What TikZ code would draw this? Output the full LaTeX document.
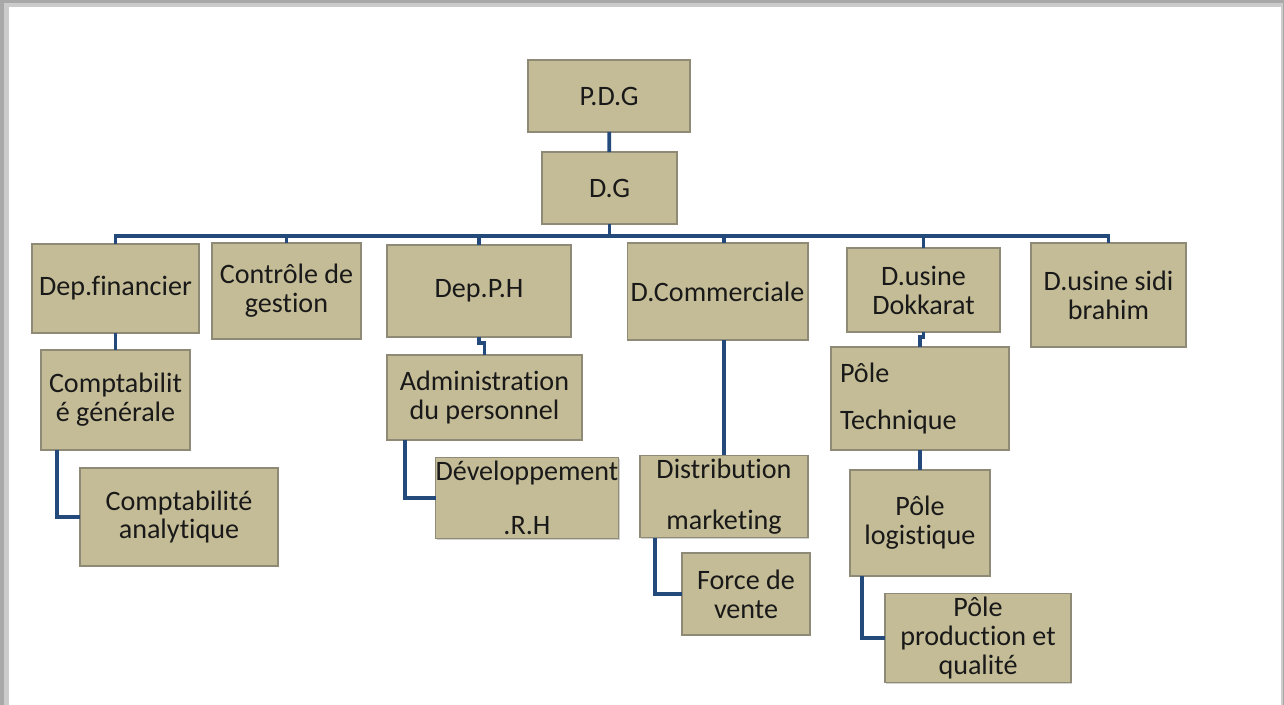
\documentclass[tikz,border=0pt]{standalone}
\usepackage{fontspec}
\setmainfont{Carlito}[Ligatures=NoCommon]
\usetikzlibrary{positioning, calc, shadows}
\definecolor{unitfill}{HTML}{C4BC96}
\definecolor{unitline}{HTML}{8E8A76}
\definecolor{linkblue}{HTML}{234A7A}
\definecolor{frame}{HTML}{A8A8A8}

\begin{document}
\begin{tikzpicture}[
    x=0.02cm, y=-0.02cm,
    every node/.style={font=\fontsize{16}{16.5}\selectfont, text=black!90},
    unit/.style={draw=unitline, line width=0.8pt, fill=unitfill, inner sep=2pt, outer sep=0pt,
        align=center, drop shadow={shadow xshift=0.8pt, shadow yshift=-0.8pt, opacity=0.35}},
    link/.style={draw=linkblue, line width=2.2pt}
]
% page frame
\fill[frame] (0,0) rectangle (1284,705);
\fill[frame!60] (4,3) rectangle (1283,705);
\fill[white] (9,7) rectangle (1281,705);
\useasboundingbox (0,0) rectangle (1284,705);

% level 0-1
\node[unit, minimum width=3.24cm, minimum height=1.44cm] (pdg) at (609,96) {P.D.G};
\node[unit, minimum width=2.70cm, minimum height=1.44cm] (dg) at (609.5,188) {D.G};

% departments
\node[unit, minimum width=3.34cm, minimum height=1.78cm] (fin) at (115.5,288.5) {Dep.financier};
\node[unit, minimum width=2.98cm, minimum height=1.92cm] (ctrl) at (286.5,291) {Contrôle de\\gestion};
\node[unit, minimum width=3.68cm, minimum height=1.84cm] (dph) at (479,291) {Dep.P.H};
\node[unit, minimum width=3.58cm, minimum height=1.94cm] (dcom) at (717.5,291.5) {D.Commerciale};
\node[unit, minimum width=3.06cm, minimum height=1.68cm] (dok) at (923.5,290) {D.usine\\Dokkarat};
\node[unit, minimum width=3.10cm, minimum height=2.08cm] (sidi) at (1108.5,295) {D.usine sidi\\brahim};

% services
\node[unit, minimum width=2.98cm, minimum height=2.00cm] (cgen) at (115.5,400) {Comptabilit\\é générale};
\node[unit, minimum width=3.96cm, minimum height=1.96cm] (cana) at (179,517) {Comptabilité\\analytique};
\node[unit, minimum width=3.90cm, minimum height=1.70cm] (adm) at (484.5,397.5) {Administration\\du personnel};
\node[unit, inner xsep=0pt, minimum width=3.64cm, minimum height=1.52cm] (drh) at (527,498) {Développement\\[0.5cm].R.H};
\node[unit, minimum width=3.36cm, minimum height=1.54cm] (dist) at (724,496.5) {Distribution\\[0.44cm]marketing};
\node[unit, minimum width=2.56cm, minimum height=1.64cm] (fv) at (746,594) {Force de\\vente};
\node[unit, minimum width=3.56cm, minimum height=2.06cm, text width=3.2cm, align=left] (ptech) at (920,398.5) {Pôle\\[0.36cm]Technique};
\node[unit, minimum width=2.80cm, minimum height=2.12cm] (plog) at (920,523) {Pôle\\logistique};
\node[unit, minimum width=3.72cm, minimum height=1.72cm] (pprod) at (978,638) {Pôle\\production et\\qualité};

% connectors
\coordinate (bus) at (0,236);
\draw[link] (pdg) -- (dg);
\draw[link] (dg.south) -- (dg.south |- bus);
\draw[link, line cap=rect] (fin.north |- bus) -- (sidi.north |- bus);
\foreach \d in {fin, ctrl, dph, dok, sidi}
  \draw[link] (\d.north) -- (\d.north |- bus);
\draw[link] ([xshift=0.13cm]dcom.north) -- ([xshift=0.13cm]dcom.north |- bus);

\draw[link] (fin) -- (cgen);
\draw[link] (dph.south) -- ++(0,6) -| (adm.north);
\draw[link] (dist.north) -- (dist.north |- dcom.south);
\draw[link] (dok.south) -- ++(0,5) -| (ptech.north);
\draw[link] (ptech) -- (plog);

\draw[link] ([xshift=0.32cm]cgen.south west) |- (cana.west);
\draw[link] ([xshift=0.36cm]adm.south west) |- (drh.west);
\draw[link] ([xshift=0.30cm]dist.south west) |- (fv.west);
\draw[link] ([xshift=0.24cm]plog.south west) |- (pprod.west);
\end{tikzpicture}
\end{document}
